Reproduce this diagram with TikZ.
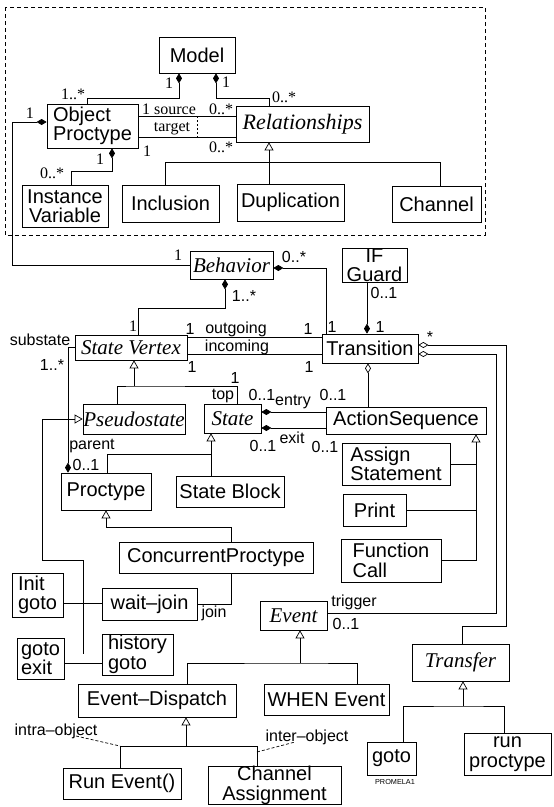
\documentclass[tikz,border=0pt]{standalone}
\usepackage{fontspec}
\setmainfont{Liberation Sans}
\newfontfamily\umlserif{Liberation Serif}
\usetikzlibrary{arrows.meta,calc}
\tikzset{
  cls/.style={draw, inner sep=0pt, align=center, font=\fontsize{20}{19.5}\selectfont},
  acls/.style={cls, font=\umlserif\itshape\fontsize{21}{21}\selectfont},
  lab/.style={inner sep=0pt, font=\fontsize{16}{16}\selectfont},
  slab/.style={inner sep=0pt, font=\umlserif\fontsize{16}{16}\selectfont},
  comp/.style={{Diamond[length=10pt,width=6pt]}-},
  aggr/.style={{Diamond[open,length=10pt,width=6pt]}-},
  gen/.style={-{Triangle[open,length=8pt,width=9pt]}}
}
\begin{document}
\begin{tikzpicture}[x=1pt,y=-1pt,line width=0.7pt]
                    \useasboundingbox (0,0) rectangle (554,807);
                    \draw [dashed,dash pattern=on 4pt off 3pt] (5,7) rectangle (485,235);

                    \node[cls,minimum width=76pt,minimum height=36pt] (model) at (197,55) {Model};
                    \node[cls,align=left,minimum width=91pt,minimum height=44pt] (objp) at (92.5,126) {Object\\Proctype};
                    \node[acls,font=\umlserif\itshape\fontsize{22}{22}\selectfont,minimum width=133pt,minimum height=36pt] (rel) at (302.5,124) {Relationships};
                    \node[cls,minimum width=86pt,minimum height=42pt] (instv) at (65,206) {Instance\\Variable};
                    \node[cls,minimum width=97pt,minimum height=37pt] (incl) at (170.5,203.5) {Inclusion};
                    \node[cls,minimum width=107pt,minimum height=37pt] (dupl) at (290.5,202.5) {Duplication};
                    \node[cls,minimum width=89pt,minimum height=36pt] (chan) at (436.5,204) {Channel};

                    \node[acls,minimum width=83pt,minimum height=28pt] (behav) at (231.5,265) {Behavior};
                    \node[cls,minimum width=65pt,minimum height=34pt] (guard) at (374.5,265) {IF\\[-1pt]Guard};
                    \node[cls,minimum width=96pt,minimum height=29pt] (trans) at (370,348.5) {Transition};
                    \node[acls,minimum width=112pt,minimum height=25pt] (svert) at (131,347.5) {State Vertex};
                    \node[acls,minimum width=102pt,minimum height=30pt] (pseudo) at (134,419) {Pseudostate};
                    \node[acls,minimum width=57pt,minimum height=29pt] (state) at (232.5,418.5) {State};
                    \node[cls,minimum width=160pt,minimum height=27pt] (aseq) at (406,420.5) {ActionSequence};
                    \node[cls,align=left,minimum width=108pt,minimum height=42pt] (assign) at (396,464) {Assign\\Statement};
                    \node[cls,minimum width=63pt,minimum height=32pt] (print) at (374.5,510) {Print};
                    \node[cls,align=left,minimum width=100pt,minimum height=43pt] (fcall) at (391,560.5) {Function\\Call};
                    \node[cls,minimum width=90pt,minimum height=37pt] (proc) at (106,491.5) {Proctype};
                    \node[cls,minimum width=108pt,minimum height=31pt] (sblock) at (230,491.5) {State Block};
                    \node[cls,minimum width=194pt,minimum height=31pt] (conc) at (216,557.5) {ConcurrentProctype};
                    \node[cls,align=left,minimum width=51pt,minimum height=44pt] (initg) at (37.5,595) {Init\\goto};
                    \node[cls,minimum width=95pt,minimum height=32pt] (waitj) at (149.5,604) {wait–join};
                    \node[cls,align=left,minimum width=47pt,minimum height=41pt] (gotoe) at (40.5,658.5) {goto\\exit};
                    \node[cls,align=left,minimum width=71pt,minimum height=41pt] (histg) at (137.5,654.5) {history\\goto};
                    \node[acls,minimum width=67pt,minimum height=29pt] (event) at (293.5,615.5) {Event};
                    \node[acls,minimum width=97pt,minimum height=37pt] (transf) at (460.5,662.5) {Transfer};
                    \node[cls,minimum width=158pt,minimum height=33pt] (edisp) at (157,700.5) {Event–Dispatch};
                    \node[cls,minimum width=125pt,minimum height=31pt] (when) at (326.5,699.5) {WHEN Event};
                    \node[cls,minimum width=118pt,minimum height=31pt] (runev) at (122,783.5) {Run Event()};
                    \node[cls,minimum width=133pt,minimum height=37pt] (chasg) at (274.5,785.5) {Channel\\Assignment};
                    \node[cls,minimum width=49pt,minimum height=33pt] (gotob) at (391.5,758.5) {goto};
                    \node[cls,minimum width=87pt,minimum height=42pt] (runp) at (507.5,754) {run\\proctype};

                    \draw [comp] ([xshift=-18pt]model.south) -- ++(0,25) -| ([xshift=-5.5pt]objp.north);
                    \draw [comp] ([xshift=19pt]model.south) -- ++(0,25) -| ([xshift=-33.5pt]rel.north);
                    \draw ([yshift=10pt]objp.east) -- ([yshift=10pt]objp.east -| rel.west);
                    \draw ([yshift=-11pt]objp.east) -- ([yshift=-11pt]objp.east -| rel.west);
                    \draw [dashed,dash pattern=on 2pt off 2pt] (197,116) -- (197,137);
                    \draw [comp] ([xshift=19.5pt]objp.south) -- ++(0,23) -| ([xshift=6pt]instv.north);
                    \draw [comp] ([yshift=4pt]objp.west) -- ++(-34,0) |- (behav.west);
                    \draw ([xshift=-5.5pt]incl.north) -- ++(0,-22) -| ([xshift=3.5pt]chan.north);
                    \draw [gen] ([xshift=-21.5pt]dupl.north) -- ([xshift=-33.5pt]rel.south);

                    \draw [comp] ([yshift=-3pt]behav.east) -| ([xshift=-44pt]trans.north);
                    \draw [comp] ([xshift=-6.5pt]behav.south) -- ++(0,29) -| ([xshift=7pt]svert.north);
                    \coordinate (gd) at ([xshift=-7.5pt]guard.south);
                    \draw [comp] (gd |- trans.north) -- (gd);
                    \draw ([yshift=10.5pt]svert.east) -- ([yshift=10.5pt]svert.east -| trans.west);
                    \draw ([yshift=-6.5pt]svert.east) -- ([yshift=-6.5pt]svert.east -| trans.west);

                    \coordinate (svj) at (134,386);
                    \draw ([xshift=-17pt]pseudo.north) |- (svj) -| ([xshift=4.5pt]state.north);
                    \draw [gen] (svj) -- (svj |- svert.south);
                    \draw [comp] ([xshift=-38pt]proc.north) |- (svert.west);
                    \draw [comp] ([yshift=6.5pt]state.east) -- ([yshift=6.5pt]state.east -| aseq.west);
                    \draw [comp] ([yshift=-9.5pt]state.east) -- ([yshift=-9.5pt]state.east -| aseq.west);
                    \draw [aggr] ([xshift=-2pt]trans.south) -- ([xshift=-2pt]trans.south |- aseq.north);

                    \coordinate (tfj) at (506,626);
                    \coordinate (evj) at (496,613);
                    \draw [aggr] ([yshift=3.5pt]trans.east) -| (tfj) -| ([xshift=1.5pt]transf.north);
                    \draw [aggr] ([yshift=-5.5pt]trans.east) -| (evj) -- (evj -| event.east);

                    \coordinate (asj) at (476,560);
                    \draw (assign.east) -- (assign.east -| asj);
                    \draw (print.east) -- (print.east -| asj);
                    \draw [gen] (fcall.east) -| ([xshift=70pt]aseq.south);

                    \coordinate (stj) at (211,454);
                    \draw ([xshift=1pt]proc.north) |- (stj) -- (stj |- sblock.north);
                    \draw [gen] (stj) -- (stj |- state.south);
                    \draw [gen] ([xshift=15pt]conc.north) -- ++(0,-14) -| (proc.south);
                    \draw ([xshift=15pt]conc.south) |- (waitj.east);

                    \coordinate (psj) at (83,653.5);
                    \coordinate (psk) at (42,560);
                    \draw [gen] (psj) |- (psk) |- (pseudo.west);
                    \draw ([yshift=-8pt]initg.east) -- ([yshift=-8pt]initg.east -| waitj.west);
                    \draw ([yshift=-5pt]gotoe.east) -- ([yshift=-5pt]gotoe.east -| histg.west);

                    \coordinate (evg) at (300,663);
                    \draw ([xshift=30pt]edisp.north) |- (evg) -| ([xshift=30.5pt]when.north);
                    \draw [gen] (evg) -- (evg |- event.south);
                    \coordinate (edg) at (186,746);
                    \draw ([xshift=-2pt]runev.north) |- (edg) -| ([xshift=-17.5pt]chasg.north);
                    \draw [gen] (edg) -- (edg |- edisp.south);
                    \draw [dashed,dash pattern=on 3pt off 2pt] (76,736) -- ([xshift=-2pt]runev.north |- edg);
                    \draw [dashed,dash pattern=on 3pt off 2pt] ([xshift=-17.5pt,yshift=-6pt]chasg.north |- edg) -- (295,742);
                    \coordinate (tfg) at (463,706);
                    \draw ([xshift=11.5pt]gotob.north) |- (tfg) -| ([xshift=-3.5pt]runp.north);
                    \draw [gen] (tfg) -- (tfg |- transf.south);

                    \node[slab] (ml1) at (169,83) {1};
                    \node[slab] (mr1) at (226,82) {1};
                    \node[slab] (mo) at (73,94) {1..*};
                    \node[slab] (mrl) at (284,97) {0..*};
                    \node[slab] (src) at (169,109) {1 source};
                    \node[slab] (srcm) at (221,109) {0..*};
                    \node[slab] (tgt) at (172,129) {target};
                    \node[slab] (tgt1) at (147,151) {1};
                    \node[slab] (tgtm) at (221,147) {0..*};
                    \node[slab] (iv1) at (100,159) {1};
                    \node[slab] (ivm) at (52,173) {0..*};
                    \node[slab] (ob1) at (30,113) {1};
                    \node[slab] (bh1) at (178,255) {1};
                    \node[lab] (bhm) at (294,257) {0..*};
                    \node[lab] (svm) at (244,296) {1..*};
                    \node[slab] (sv1) at (133,326) {1};
                    \node[lab] (og1) at (190,329) {1};
                    \node[lab] (og) at (236,329) {outgoing};
                    \node[lab] (ic) at (237,347) {incoming};
                    \node[lab] (ic1) at (192,367) {1};
                    \node[lab] (sub) at (40,340) {substate};
                    \node[lab] (subm) at (52,365) {1..*};
                    \node[lab] (top1) at (235,378) {1};
                    \node[lab] (top) at (223,396) {top};
                    \node[lab] (tr1) at (308,329) {1};
                    \node[lab] (tr2) at (332,327) {1};
                    \node[lab] (gd01) at (384,293) {0..1};
                    \node[lab] (gd1) at (380,327) {1};
                    \node[lab] (tr3) at (309,367) {1};
                    \node[lab] (trs) at (430,337) {*};
                    \node[lab] (en01) at (262,395) {0..1};
                    \node[lab] (en) at (293,402) {entry};
                    \node[lab] (en02) at (333,395) {0..1};
                    \node[lab] (ex01) at (263,446) {0..1};
                    \node[lab] (ex) at (292,438) {exit};
                    \node[lab] (ex02) at (325,447) {0..1};
                    \node[lab] (par) at (92,446) {parent};
                    \node[lab] (par01) at (86,465) {0..1};
                    \node[lab] (join) at (214,613) {join};
                    \node[lab] (trig) at (354,602) {trigger};
                    \node[lab] (trig01) at (346,624) {0..1};
                    \node[lab] (intra) at (56,731) {intra–object};
                    \node[lab] (inter) at (307,737) {inter–object};
                    \node[inner sep=0pt,font=\fontsize{7.3}{8}\selectfont] (tag) at (395,782) {PROMELA1};
\end{tikzpicture}
\end{document}
